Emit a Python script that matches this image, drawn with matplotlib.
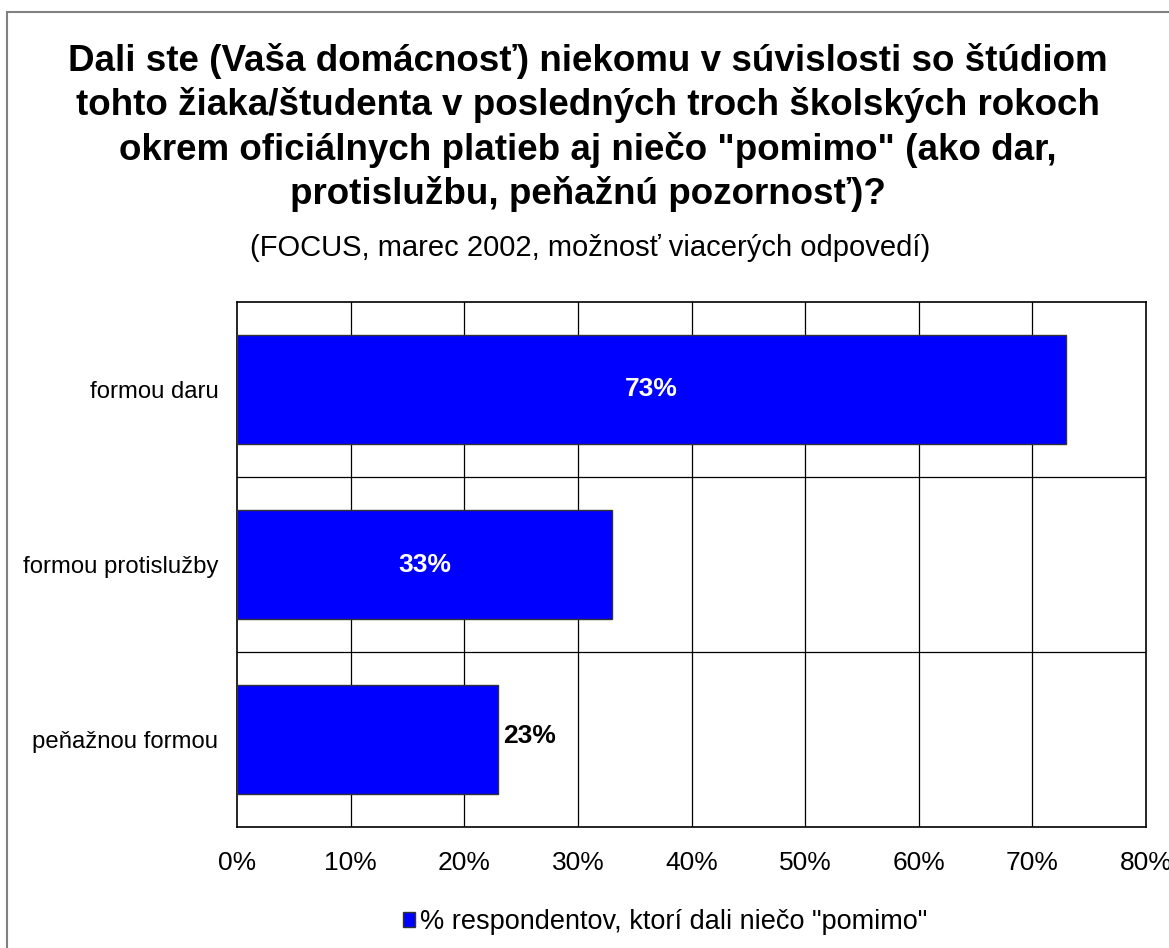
import matplotlib
matplotlib.use('Agg')
import matplotlib.pyplot as plt
from matplotlib.patches import Rectangle, Patch

plt.rcParams['font.family'] = ['Liberation Sans', 'DejaVu Sans']

categories = ["formou daru", "formou protislužby", "peňažnou formou"]
values = [73, 33, 23]
xticks = [0, 10, 20, 30, 40, 50, 60, 70, 80]
legend_label = '% respondentov, ktorí dali niečo "pomimo"'
title = ('Dali ste (Vaša domácnosť) niekomu v súvislosti so štúdiom\n'
         'tohto žiaka/študenta v posledných troch školských rokoch\n'
         'okrem oficiálnych platieb aj niečo "pomimo" (ako dar,\n'
         'protislužbu, peňažnú pozornosť)?')
subtitle = '(FOCUS, marec 2002, možnosť viacerých odpovedí)'

W, H = 1169, 948
fig = plt.figure(figsize=(W / 100, H / 100), dpi=100)

# outer chart frame
fig.patches.append(Rectangle((7 / W, 1 - 955 / H), 1180 / W, (955 - 12) / H,
                             transform=fig.transFigure, fill=False,
                             edgecolor='#808080', linewidth=1.5))

fig.text(588 / W, 1 - 43 / H, title, ha='center', va='top', fontsize=26.5,
         fontweight='bold', linespacing=1.3)
fig.text(590 / W, 1 - 256 / H, subtitle, ha='center', va='baseline', fontsize=21)

left, right, top, bottom = 237, 1146, 302, 827
ax = fig.add_axes([left / W, 1 - bottom / H, (right - left) / W, (bottom - top) / H])

ypos = list(range(len(categories)))
bars = ax.barh(ypos, values, height=0.62, color='#0000ff', edgecolor='#333333',
               linewidth=1, zorder=3, label=legend_label)

ax.set_xlim(0, 80)
ax.set_ylim(len(categories) - 0.5, -0.5)
ax.set_xticks(xticks)
ax.set_xticklabels([f"{t}%" for t in xticks], fontsize=19)
ax.set_yticks(ypos)
ax.set_yticklabels(categories, fontsize=17.2)
ax.tick_params(axis='x', length=0, pad=17)
ax.tick_params(axis='y', length=0, pad=13.5)

for t in xticks[1:-1]:
    ax.axvline(t, color='black', linewidth=0.9, zorder=1)
for b in [0.5, 1.5]:
    ax.axhline(b, color='black', linewidth=0.9, zorder=1)
for s in ax.spines.values():
    s.set_linewidth(1.2)
    s.set_color('black')

for i, v in enumerate(values):
    if v > 30:
        ax.text(v / 2, i, f"{v}%", ha='center', va='center', color='white',
                fontsize=19, fontweight='bold', zorder=4)
    else:
        ax.text(v + 0.4, i - 0.02, f"{v}%", ha='left', va='center', color='black',
                fontsize=19, fontweight='bold', zorder=4)

fig.legend(handles=[Patch(facecolor='#0000ff', edgecolor='#333333', label=legend_label)],
           loc='center', bbox_to_anchor=(665 / W, 1 - 922 / H), frameon=False,
           fontsize=19.5, handlelength=0.45, handleheight=0.45, handletextpad=0.2)

fig.savefig('out.png', dpi=100)
